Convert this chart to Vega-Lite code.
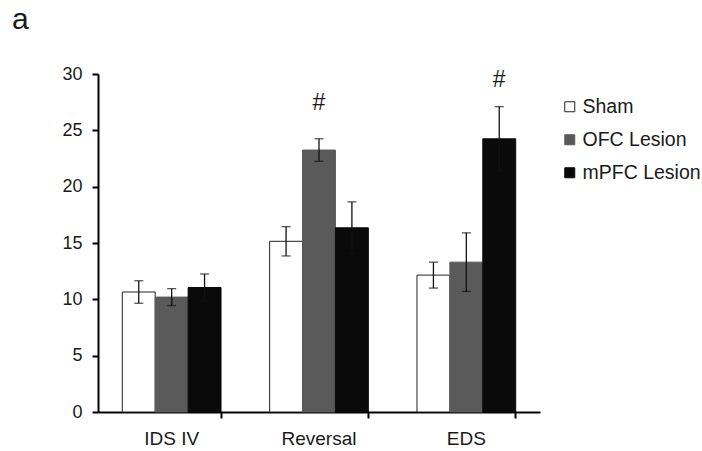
{
  "$schema": "https://vega.github.io/schema/vega-lite/v6.json",
  "width": 442,
  "height": 338,
  "autosize": "none",
  "padding": {"left": 98, "top": 74, "right": 162, "bottom": 39},
  "background": "white",
  "config": {
    "view": {"stroke": null},
    "font": "Liberation Sans",
    "axis": {"labelFont": "Liberation Sans", "labelFontSize": 18, "labelColor": "#1a1a1a", "grid": false, "title": null, "domainColor": "#000", "domainWidth": 2, "tickColor": "#000", "tickWidth": 2, "tickSize": 6}
  },
  "title": {"text": "a", "anchor": "start", "frame": "group", "fontSize": 30, "fontWeight": "normal", "font": "Liberation Sans", "color": "#1a1a1a", "dx": -86, "offset": 30},
  "datasets": {
    "bars": [
      {"phase": "IDS IV", "group": "Sham", "value": 10.65, "lo": 9.65, "hi": 11.65},
      {"phase": "IDS IV", "group": "OFC Lesion", "value": 10.2, "lo": 9.45, "hi": 10.95},
      {"phase": "IDS IV", "group": "mPFC Lesion", "value": 11.05, "lo": 9.85, "hi": 12.25},
      {"phase": "Reversal", "group": "Sham", "value": 15.15, "lo": 13.85, "hi": 16.45},
      {"phase": "Reversal", "group": "OFC Lesion", "value": 23.25, "lo": 22.25, "hi": 24.25},
      {"phase": "Reversal", "group": "mPFC Lesion", "value": 16.35, "lo": 14.05, "hi": 18.65},
      {"phase": "EDS", "group": "Sham", "value": 12.15, "lo": 11.0, "hi": 13.3},
      {"phase": "EDS", "group": "OFC Lesion", "value": 13.3, "lo": 10.7, "hi": 15.9},
      {"phase": "EDS", "group": "mPFC Lesion", "value": 24.25, "lo": 21.4, "hi": 27.1}
    ],
    "marks": [
      {"phase": "Reversal", "group": "OFC Lesion", "y": 27.4, "label": "#"},
      {"phase": "EDS", "group": "mPFC Lesion", "y": 29.45, "label": "#"}
    ]
  },
  "encoding": {
    "x": {"field": "phase", "type": "nominal", "sort": ["IDS IV", "Reversal", "EDS"],
      "scale": {"paddingInner": 0.33, "paddingOuter": 0.165},
      "axis": {"bandPosition": 1, "labelPadding": 11, "labelAngle": 0, "labelFontSize": 19}},
    "xOffset": {"field": "group", "type": "nominal", "sort": ["Sham", "OFC Lesion", "mPFC Lesion"], "scale": {"paddingInner": 0, "paddingOuter": 0}}
  },
  "layer": [
    {
      "data": {"name": "bars"},
      "mark": {"type": "bar", "strokeWidth": 1},
      "encoding": {
        "y": {"field": "value", "type": "quantitative", "scale": {"domain": [0, 30], "nice": false},
          "axis": {"values": [0, 5, 10, 15, 20, 25, 30], "labelPadding": 10}},
        "fill": {"field": "group", "type": "nominal", "sort": ["Sham", "OFC Lesion", "mPFC Lesion"],
          "scale": {"domain": ["Sham", "OFC Lesion", "mPFC Lesion"], "range": ["#ffffff", "#5a5a5a", "#0a0a0a"]},
          "legend": {"title": null, "orient": "none", "legendX": 462, "legendY": 23, "symbolType": "square", "symbolSize": 100, "symbolStrokeWidth": 1, "labelFontSize": 19.5, "labelFont": "Liberation Sans", "labelColor": "#1a1a1a", "rowPadding": 12, "labelOffset": 3}},
        "stroke": {"field": "group", "type": "nominal", "sort": ["Sham", "OFC Lesion", "mPFC Lesion"],
          "scale": {"domain": ["Sham", "OFC Lesion", "mPFC Lesion"], "range": ["#222222", "#5a5a5a", "#0a0a0a"]}}
      }
    },
    {
      "data": {"name": "bars"},
      "mark": {"type": "rule", "color": "#111", "strokeWidth": 1.3},
      "encoding": {
        "y": {"field": "lo", "type": "quantitative"},
        "y2": {"field": "hi"}
      }
    },
    {
      "data": {"name": "bars"},
      "mark": {"type": "tick", "color": "#111", "thickness": 1.3, "size": 9},
      "encoding": {"y": {"field": "lo", "type": "quantitative"}}
    },
    {
      "data": {"name": "bars"},
      "mark": {"type": "tick", "color": "#111", "thickness": 1.3, "size": 9},
      "encoding": {"y": {"field": "hi", "type": "quantitative"}}
    },
    {
      "data": {"name": "marks"},
      "mark": {"type": "text", "fontSize": 23, "font": "Liberation Sans", "color": "#1a1a1a", "baseline": "middle"},
      "encoding": {
        "y": {"field": "y", "type": "quantitative"},
        "text": {"field": "label"}
      }
    }
  ]
}
